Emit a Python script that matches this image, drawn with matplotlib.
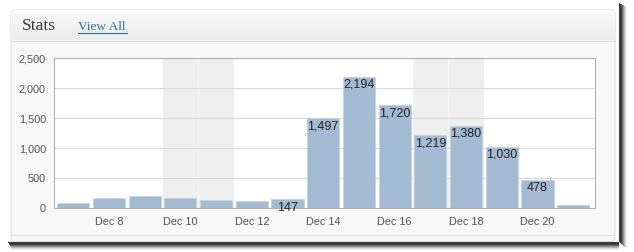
import numpy as np
import matplotlib
matplotlib.use("Agg")
from matplotlib import pyplot as plt
from matplotlib.patches import Rectangle, FancyBboxPatch
from matplotlib.colors import LinearSegmentedColormap

# daily stats, Dec 7 .. Dec 21
days = [7, 8, 9, 10, 11, 12, 13, 14, 15, 16, 17, 18, 19, 20, 21]
views = [89, 178, 200, 167, 133, 130, 147, 1497, 2194, 1720, 1219, 1380, 1030, 478, 56]
labelled = [13, 14, 15, 16, 17, 18, 19, 20]
weekends = [10, 11, 17, 18]
tick_days = [8, 10, 12, 14, 16, 18, 20]
tick_labels = ["Dec 8", "Dec 10", "Dec 12", "Dec 14", "Dec 16", "Dec 18", "Dec 20"]
yticks = [0, 500, 1000, 1500, 2000, 2500]

W, H = 634, 252
fig = plt.figure(figsize=(W / 100, H / 100), dpi=100)
fig.patch.set_facecolor("white")

# background axes in pixel coords (y down)
bg = fig.add_axes([0, 0, 1, 1])
bg.set_xlim(0, W)
bg.set_ylim(H, 0)
bg.axis("off")

# drop shadow of the screenshot window: right and bottom
shade = [0.78, 0.8, 0.72, 0.58, 0.42, 0.27, 0.14, 0.06]
for i, a in enumerate(shade):
    bg.add_patch(Rectangle((619 + i, 3 + i * 0.5), 1, 241.5 - 3 + i - i * 0.5,
                           facecolor="black", alpha=a, lw=0, zorder=0.5))
    bg.add_patch(Rectangle((8 + i * 0.5, 241.5 + i), 619 - 8 - i * 0.5, 1,
                           facecolor="black", alpha=a, lw=0, zorder=0.5))

# panel
panel = FancyBboxPatch((11, 10), 604, 231.5, boxstyle="round,pad=0,rounding_size=4",
                       facecolor="#f8f8f8", edgecolor="#dcdcdc", linewidth=0.8, zorder=1)
bg.add_patch(panel)
grad = np.linspace(0, 1, 30)[:, None]
hdr = bg.imshow(grad, cmap=LinearSegmentedColormap.from_list("h", ["#fafafa", "#ebebeb"]),
                extent=(11, 615, 40, 10), aspect="auto", zorder=2)
hdr.set_clip_path(panel)
bg.plot([11, 615], [40.5, 40.5], color="#dedede", lw=0.8, zorder=3)
bg.plot([11, 615], [234.5, 234.5], color="#e2e2e2", lw=0.8, zorder=3)

bg.text(22, 26, "Stats", family="Liberation Serif", fontsize=12.5, color="#333333",
        va="center", ha="left", zorder=4)
bg.text(78, 26.5, "View All", family="Liberation Serif", fontsize=9.5, color="#21759b",
        va="center", ha="left", zorder=4)
bg.plot([78, 127], [33, 33], color="#21759b", lw=0.8, zorder=4)

# chart
ax = fig.add_axes([54.3 / W, 1 - 208.3 / H, (594.7 - 54.3) / W, (208.3 - 58.3) / H])
ax.set_facecolor("white")
ax.set_xlim(6.47, 21.6)
ax.set_ylim(0, 2500)

for d in weekends:
    ax.axvspan(d - 0.5, d + 0.5, color="#eeeeee", lw=0, zorder=0)
for d in [10, 17]:
    ax.axvline(d + 0.5, color="#f4f4f4", lw=0.8, zorder=0.5)

ax.set_yticks(yticks)
ax.set_yticklabels([f"{v:,}" for v in yticks])
ax.set_xticks(tick_days)
ax.set_xticklabels(tick_labels)
ax.grid(axis="y", color="#d8d8d8", lw=0.8, zorder=1)
ax.set_axisbelow(True)
ax.tick_params(length=0, labelsize=7.8, labelcolor="#505050", pad=6)
for lab in ax.get_xticklabels() + ax.get_yticklabels():
    lab.set_family("Liberation Sans")
for s in ax.spines.values():
    s.set_color("#b0b0b0")
    s.set_linewidth(0.8)

ax.bar(days, views, width=0.9, color="#a3bad3", edgecolor="#c4d3e3", linewidth=0.6, zorder=2)
for d, v in zip(days, views):
    if d in labelled:
        ax.annotate(f"{v:,}", (d, v), xytext=(0, -1.5), textcoords="offset points",
                    ha="center", va="top", fontsize=9, family="Liberation Sans",
                    color="#222222", zorder=3)

fig.savefig("out.png", dpi=100)
